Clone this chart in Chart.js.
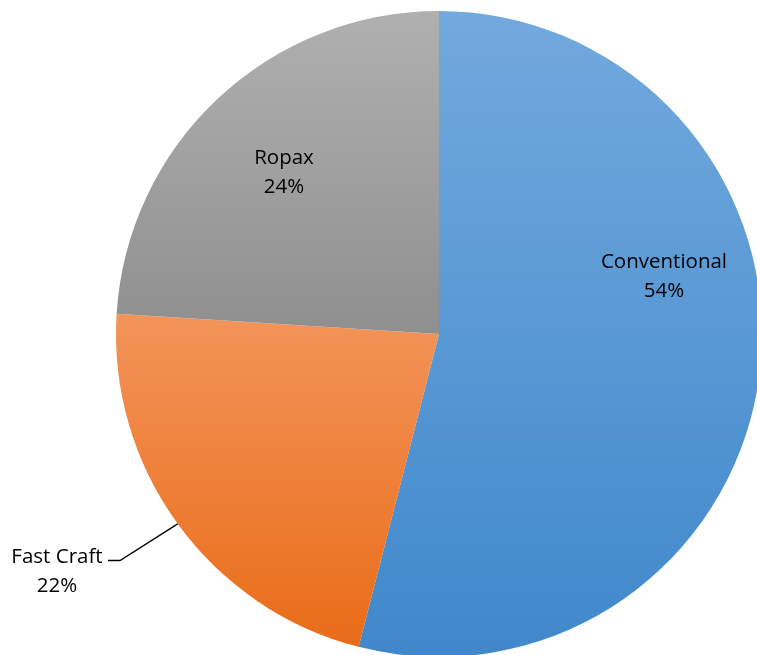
<!DOCTYPE html>
<html>
<head>
<meta charset="utf-8">
<script src="https://cdn.jsdelivr.net/npm/chart.js@4"></script>
<style>
html,body{margin:0;padding:0;background:#fff;overflow:hidden;width:757px;height:655px;}
#wrap{position:absolute;left:0;top:0;width:878px;height:668px;}
</style>
</head>
<body>
<div id="wrap"><canvas id="c" width="878" height="668"></canvas></div>
<script>
const categories = ['Conventional', 'Fast Craft', 'Ropax'];
const values = [54, 22, 24];
const percentLabels = ['54%', '22%', '24%'];

const gradStops = [
  ['#72a9de', '#4088cb'],
  ['#f39459', '#e96c18'],
  ['#b0b0b0', '#8f8f8f']
];

function sliceGradient(chart, i) {
  const area = chart.chartArea;
  if (!area) return gradStops[i][1];
  const ctx = chart.ctx;
  const cx = (area.left + area.right) / 2;
  const cy = (area.top + area.bottom) / 2;
  const r = Math.min(area.right - area.left, area.bottom - area.top) / 2;
  const total = values.reduce((a, b) => a + b, 0);
  let start = -Math.PI / 2;
  for (let k = 0; k < i; k++) start += values[k] / total * Math.PI * 2;
  const end = start + values[i] / total * Math.PI * 2;
  const ys = [cy];
  const n = 60;
  for (let k = 0; k <= n; k++) {
    const a = start + (end - start) * k / n;
    ys.push(cy + r * Math.sin(a));
  }
  const y0 = Math.min(...ys), y1 = Math.max(...ys);
  const g = ctx.createLinearGradient(0, y0, 0, y1);
  g.addColorStop(0, gradStops[i][0]);
  g.addColorStop(1, gradStops[i][1]);
  return g;
}

const labelPlugin = {
  id: 'labels',
  afterDatasetsDraw(chart) {
    const ctx = chart.ctx;
    const meta = chart.getDatasetMeta(0);
    ctx.save();
    ctx.font = '20.5px "Open Sans", "Liberation Sans", sans-serif';
    ctx.fillStyle = '#000';
    ctx.textAlign = 'center';
    ctx.textBaseline = 'alphabetic';
    const lh = 29;
    meta.data.forEach((arc, i) => {
      const {x, y, startAngle, endAngle, outerRadius: r} = arc.getProps(['x','y','startAngle','endAngle','outerRadius'], true);
      const mid = (startAngle + endAngle) / 2;
      let lx, by;
      if (i === 0) {
        lx = 664; by = 268;
      } else if (i === 2) {
        lx = 284; by = 164;
      } else {
        const ex = x + r * Math.cos(mid), ey = y + r * Math.sin(mid);
        lx = 57; by = 563;
        ctx.strokeStyle = '#000';
        ctx.lineWidth = 1.3;
        ctx.beginPath();
        ctx.moveTo(ex, ey);
        ctx.lineTo(120, 560.5);
        ctx.lineTo(108, 560.5);
        ctx.stroke();
      }
      ctx.fillText(categories[i], lx, by);
      ctx.fillText(percentLabels[i], lx, by + lh);
    });
    ctx.restore();
  }
};

new Chart(document.getElementById('c'), {
  type: 'pie',
  data: {
    labels: categories,
    datasets: [{
      data: values,
      backgroundColor: (c) => sliceGradient(c.chart, c.dataIndex),
      borderWidth: 0
    }]
  },
  options: {
    responsive: false,
    animation: false,
    layout: { padding: 11 },
    plugins: { legend: { display: false }, tooltip: { enabled: false } }
  },
  plugins: [labelPlugin]
});
</script>
</body>
</html>
